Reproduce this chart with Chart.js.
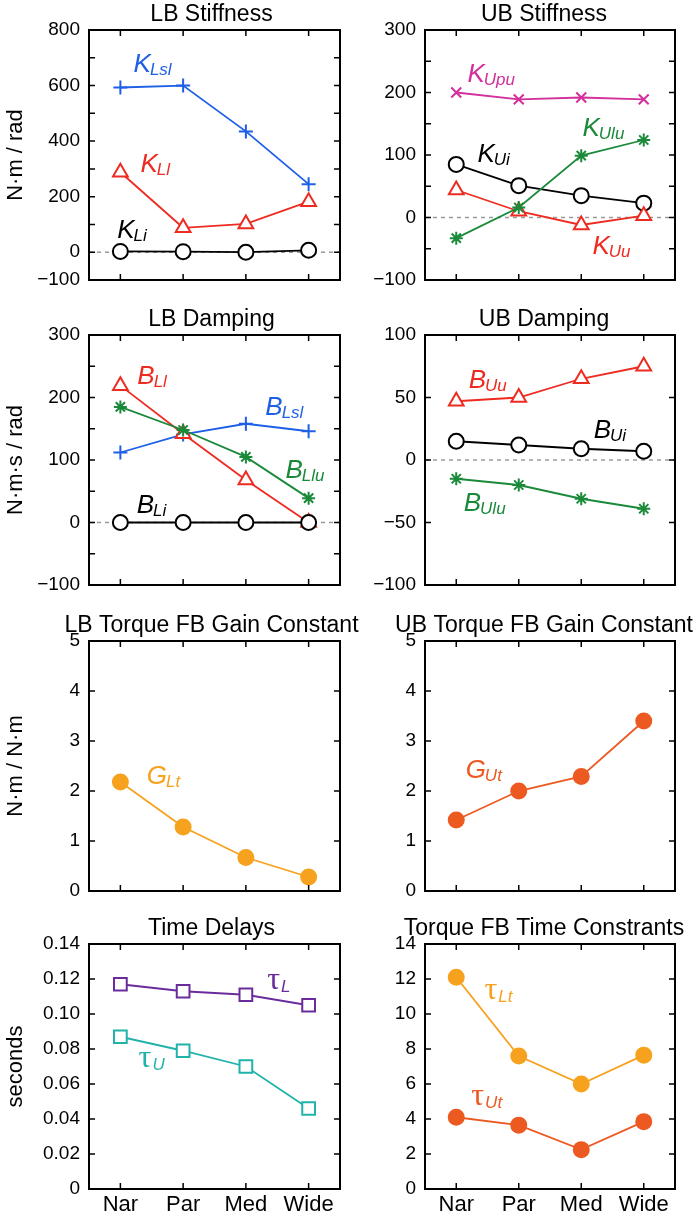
<!DOCTYPE html>
<html>
<head>
<meta charset="utf-8">
<script src="https://cdn.jsdelivr.net/npm/chart.js@4.4.1/dist/chart.umd.min.js"></script>
<style>
  html, body { margin: 0; padding: 0; background: #fff; }
  #wrap { position: relative; width: 696px; height: 1219px; overflow: hidden; }
  #wrap canvas { position: absolute; }
</style>
</head>
<body>
<div id="wrap">
  <canvas id="ubStiff" width="348" height="305" style="left:348px;top:0px"></canvas>
  <canvas id="ubDamp" width="348" height="305" style="left:348px;top:305px"></canvas>
  <canvas id="ubGain" width="348" height="305" style="left:348px;top:611px"></canvas>
  <canvas id="tauT" width="348" height="305" style="left:348px;top:914px"></canvas>
  <canvas id="lbStiff" width="380" height="305" style="left:0px;top:0px"></canvas>
  <canvas id="lbDamp" width="380" height="305" style="left:0px;top:305px"></canvas>
  <canvas id="lbGain" width="380" height="305" style="left:0px;top:611px"></canvas>
  <canvas id="delays" width="380" height="305" style="left:0px;top:914px"></canvas>
</div>
<script>
const conditions = ['Nar', 'Par', 'Med', 'Wide'];

// LB stiffness, N·m/rad
const kLsl = [593, 600, 435, 245];
const kLl = [288, 88, 102, 182];
const kLi = [3, 2, 0, 7];
// UB stiffness
const kUpu = [200, 189, 192, 189];
const kUlu = [-33, 16, 99, 124];
const kUi = [85, 51, 35, 23];
const kUu = [44, 10, -12, 3];
// LB damping, N·m·s/rad
const bLl = [219, 142, 68, 0];
const bLlu = [185, 148, 105, 39];
const bLsl = [112, 141, 158, 146];
const bLi = [0, 0, 0, 0];
// UB damping
const bUu = [47, 50, 65, 75];
const bUi = [15, 12, 9, 7];
const bUlu = [-15, -20, -31, -39];
// torque FB gain constants
const gLt = [2.18, 1.28, 0.67, 0.28];
const gUt = [1.42, 2.0, 2.29, 3.4];
// time delays, seconds
const tauL = [0.117, 0.113, 0.111, 0.105];
const tauU = [0.087, 0.079, 0.070, 0.046];
// torque FB time constants
const tauLt = [12.1, 7.6, 6.0, 7.65];
const tauUt = [4.1, 3.65, 2.25, 3.85];

// labelled y ticks (the other ticks are unlabelled marks)
const lbStiffTicks = [800, 600, 400, 200, 0, -100];
const ubStiffTicks = [300, 200, 100, 0, -100];
const lbDampTicks = [300, 200, 100, 0, -100];
const ubDampTicks = [100, 50, 0, -50, -100];
const gainTicks = [0, 1, 2, 3, 4, 5];
const delayTicks = [0, 0.02, 0.04, 0.06, 0.08, 0.10, 0.12, 0.14];
const tauTicks = [0, 2, 4, 6, 8, 10, 12, 14];

const SANS = '"Liberation Sans", Arial, sans-serif';
const blue = '#1d5fe6', red = '#ee2b20', green = '#1a8a3a', magenta = '#d2309a',
    black = '#000000', orange = '#f7a21e', orangeRed = '#ec5a22', purple = '#6a2c9c', teal = '#21b3aa';

const framePlugin = {
    id: 'frame',
    beforeDatasetsDraw(chart, args, opts) {
        if (!opts.zeroLine) return;
        const { ctx, chartArea: a, scales: { y } } = chart;
        const y0 = y.getPixelForValue(0);
        ctx.save();
        ctx.strokeStyle = '#9a9a9a';
        ctx.lineWidth = 1.5;
        ctx.setLineDash([4, 4]);
        ctx.beginPath();
        ctx.moveTo(a.left, y0);
        ctx.lineTo(a.right, y0);
        ctx.stroke();
        ctx.restore();
    },
    afterDatasetsDraw(chart, args, opts) {
        const { ctx, chartArea: a, scales: { x, y } } = chart;
        ctx.save();
        // box
        ctx.strokeStyle = '#000';
        ctx.lineWidth = 2;
        ctx.strokeRect(a.left, a.top, a.right - a.left, a.bottom - a.top);
        // inward ticks
        ctx.lineWidth = 1.5;
        ctx.beginPath();
        y.ticks.forEach(t => {
            const py = y.getPixelForValue(t.value);
            ctx.moveTo(a.left, py); ctx.lineTo(a.left + 6, py);
            ctx.moveTo(a.right, py); ctx.lineTo(a.right - 6, py);
        });
        conditions.forEach((c, i) => {
            const px = x.getPixelForValue(i);
            ctx.moveTo(px, a.top); ctx.lineTo(px, a.top + 6);
            ctx.moveTo(px, a.bottom); ctx.lineTo(px, a.bottom - 6);
        });
        ctx.stroke();
        // title
        ctx.fillStyle = '#000';
        ctx.font = '23px ' + SANS;
        ctx.textAlign = 'center';
        ctx.fillText(opts.title, (a.left + a.right) / 2 + opts.titleDx, a.top - 9);
        // series labels
        ctx.textAlign = 'left';
        (opts.labels || []).forEach(l => {
            const px = x.getPixelForValue(l.at[0]);
            const py = y.getPixelForValue(l.at[1]);
            ctx.fillStyle = l.color;
            ctx.font = l.greek ? '32px "Liberation Serif", serif' : 'italic 26px ' + SANS;
            ctx.fillText(l.main, px, py);
            const w = ctx.measureText(l.main).width;
            ctx.font = 'italic 17px ' + SANS;
            ctx.fillText(l.sub, px + w + (l.greek ? 1 : -1), py + 3);
        });
        ctx.restore();
    }
};

function series(data, color, pointStyle, radius, filled) {
    return {
        data: data,
        borderColor: color,
        backgroundColor: color,
        borderWidth: 1.8,
        pointStyle: pointStyle,
        pointRadius: radius,
        pointBorderColor: color,
        pointBackgroundColor: filled ? color : '#ffffff',
        pointBorderWidth: 2,
        tension: 0,
        clip: false
    };
}

function makeChart(id, cfg) {
    const left = cfg.left;
    return new Chart(document.getElementById(id), {
        type: 'line',
        data: { labels: conditions, datasets: cfg.datasets },
        options: {
            responsive: false,
            animation: false,
            events: [],
            layout: { padding: { top: 30, left: 0, bottom: 0, right: left ? 40 : 21 } },
            plugins: {
                legend: { display: false },
                tooltip: { enabled: false },
                frame: { title: cfg.title, titleDx: left ? -3 : -6, labels: cfg.labels, zeroLine: cfg.zeroLine }
            },
            scales: {
                x: {
                    offset: true,
                    grid: { display: false, drawTicks: false },
                    border: { display: false },
                    ticks: { display: !!cfg.showX, color: '#000', font: { family: SANS, size: 22 }, padding: 3, maxRotation: 0, autoSkip: false },
                    afterFit: s => { s.height = cfg.showX ? 30 : 25; }
                },
                y: {
                    min: cfg.min,
                    max: cfg.max,
                    grid: { display: false, drawTicks: false },
                    border: { display: false },
                    ticks: {
                        stepSize: cfg.step,
                        autoSkip: false,
                        color: '#000',
                        font: { family: SANS, size: 19 },
                        padding: 9,
                        callback: v => {
                            const hit = cfg.tickLabels.find(t => Math.abs(t - v) < 1e-9);
                            if (hit === undefined) return '';
                            return cfg.fmt ? cfg.fmt(hit) : String(hit).replace('-', '\u2212');
                        }
                    },
                    title: {
                        display: !!cfg.yTitle,
                        text: cfg.yTitle,
                        color: '#000',
                        font: { family: SANS, size: 22 },
                        padding: { top: 3, bottom: 0 }
                    },
                    afterFit: s => { s.width = left ? 89 : 77; }
                }
            }
        },
        plugins: [framePlugin]
    });
}

makeChart('lbStiff', {
    left: true, title: 'LB Stiffness', yTitle: 'N\u00b7m / rad',
    min: -100, max: 800, step: 100, tickLabels: lbStiffTicks, zeroLine: true,
    datasets: [
        series(kLi, black, 'circle', 7.5, false),
        series(kLl, red, 'triangle', 8.5, false),
        series(kLsl, blue, 'cross', 7, false)
    ],
    labels: [
        { main: 'K', sub: 'Lsl', color: blue, at: [0.21, 649] },
        { main: 'K', sub: 'Ll', color: red, at: [0.32, 289] },
        { main: 'K', sub: 'Li', color: black, at: [-0.05, 51] }
    ]
});

makeChart('ubStiff', {
    left: false, title: 'UB Stiffness',
    min: -100, max: 300, step: 50, tickLabels: ubStiffTicks, zeroLine: true,
    datasets: [
        series(kUlu, green, 'star', 6.5, false),
        series(kUu, red, 'triangle', 8.5, false),
        series(kUi, black, 'circle', 7.5, false),
        series(kUpu, magenta, 'crossRot', 7, false)
    ],
    labels: [
        { main: 'K', sub: 'Upu', color: magenta, at: [0.18, 217] },
        { main: 'K', sub: 'Ulu', color: green, at: [2.02, 131] },
        { main: 'K', sub: 'Ui', color: black, at: [0.34, 89] },
        { main: 'K', sub: 'Uu', color: red, at: [2.18, -58] }
    ]
});

makeChart('lbDamp', {
    left: true, title: 'LB Damping', yTitle: 'N\u00b7m\u00b7s / rad',
    min: -100, max: 300, step: 50, tickLabels: lbDampTicks, zeroLine: true,
    datasets: [
        series(bLi, black, 'circle', 7.5, false),
        series(bLlu, green, 'star', 6.5, false),
        series(bLl, red, 'triangle', 8.5, false),
        series(bLsl, blue, 'cross', 7, false)
    ],
    labels: [
        { main: 'B', sub: 'Ll', color: red, at: [0.27, 221] },
        { main: 'B', sub: 'Lsl', color: blue, at: [2.31, 172] },
        { main: 'B', sub: 'Llu', color: green, at: [2.63, 72] },
        { main: 'B', sub: 'Li', color: black, at: [0.26, 16] }
    ]
});

makeChart('ubDamp', {
    left: false, title: 'UB Damping',
    min: -100, max: 100, step: 50, tickLabels: ubDampTicks, zeroLine: true,
    datasets: [
        series(bUi, black, 'circle', 7.5, false),
        series(bUu, red, 'triangle', 8.5, false),
        series(bUlu, green, 'star', 6.5, false)
    ],
    labels: [
        { main: 'B', sub: 'Uu', color: red, at: [0.2, 58] },
        { main: 'B', sub: 'Ui', color: black, at: [2.2, 18] },
        { main: 'B', sub: 'Ulu', color: green, at: [0.12, -40.5] }
    ]
});

makeChart('lbGain', {
    left: true, title: 'LB Torque FB Gain Constant', yTitle: 'N\u00b7m / N\u00b7m',
    min: 0, max: 5, step: 1, tickLabels: gainTicks,
    datasets: [series(gLt, orange, 'circle', 7.5, true)],
    labels: [{ main: 'G', sub: 'Lt', color: orange, at: [0.42, 2.15] }]
});

makeChart('ubGain', {
    left: false, title: 'UB Torque FB Gain Constant',
    min: 0, max: 5, step: 1, tickLabels: gainTicks,
    datasets: [series(gUt, orangeRed, 'circle', 7.5, true)],
    labels: [{ main: 'G', sub: 'Ut', color: orangeRed, at: [0.15, 2.27] }]
});

makeChart('delays', {
    left: true, title: 'Time Delays', yTitle: 'seconds', showX: true,
    min: 0, max: 0.14, step: 0.02, tickLabels: delayTicks,
    fmt: v => v === 0 ? '0' : v.toFixed(2),
    datasets: [
        series(tauL, purple, 'rect', 9, false),
        series(tauU, teal, 'rect', 9, false)
    ],
    labels: [
        { main: '\u03c4', sub: 'L', color: purple, at: [2.34, 0.1143], greek: true },
        { main: '\u03c4', sub: 'U', color: teal, at: [0.29, 0.070], greek: true }
    ]
});

makeChart('tauT', {
    left: false, title: 'Torque FB Time Constrants', showX: true,
    min: 0, max: 14, step: 2, tickLabels: tauTicks,
    datasets: [
        series(tauLt, orange, 'circle', 7.5, true),
        series(tauUt, orangeRed, 'circle', 7.5, true)
    ],
    labels: [
        { main: '\u03c4', sub: 'Lt', color: orange, at: [0.45, 10.84], greek: true },
        { main: '\u03c4', sub: 'Ut', color: orangeRed, at: [0.24, 4.78], greek: true }
    ]
});
</script>
</body>
</html>
